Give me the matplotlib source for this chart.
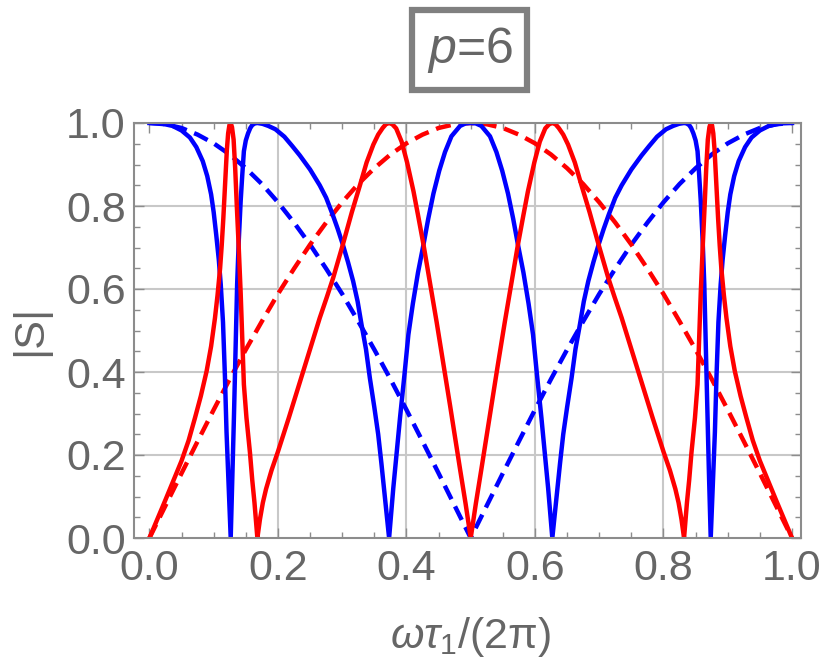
import matplotlib
matplotlib.use('Agg')
import matplotlib.pyplot as plt
from matplotlib.ticker import MultipleLocator

# values, as (x, |S|) pairs
# solid blue curve
blue_pts = [
    (0.000, 1.000), (0.018, 0.999), (0.036, 0.993), (0.050, 0.982), (0.063, 0.965),
    (0.073, 0.942), (0.083, 0.908), (0.090, 0.872), (0.096, 0.828), (0.100, 0.785),
    (0.104, 0.730), (0.108, 0.670), (0.111, 0.611), (0.1145, 0.520), (0.1175, 0.390),
    (0.120, 0.255), (0.1235, 0.115), (0.1265, 0.000), (0.1295, 0.170), (0.1315, 0.290),
    (0.134, 0.450), (0.1365, 0.611), (0.139, 0.715), (0.142, 0.812), (0.1445, 0.875),
    (0.147, 0.932), (0.150, 0.958), (0.1535, 0.975), (0.157, 0.988), (0.160, 0.995),
    (0.164, 0.999), (0.168, 1.000), (0.176, 0.998), (0.185, 0.993), (0.196, 0.985),
    (0.210, 0.967), (0.222, 0.945), (0.234, 0.922), (0.250, 0.888), (0.265, 0.850),
    (0.275, 0.820), (0.285, 0.780), (0.293, 0.745), (0.301, 0.707), (0.309, 0.665),
    (0.317, 0.619), (0.324, 0.570), (0.330, 0.515), (0.337, 0.455), (0.343, 0.386),
    (0.350, 0.315), (0.356, 0.250), (0.361, 0.180), (0.366, 0.105), (0.373, 0.000),
    (0.3795, 0.120), (0.385, 0.210), (0.390, 0.290), (0.397, 0.395), (0.403, 0.490),
    (0.410, 0.565), (0.418, 0.640), (0.4265, 0.707), (0.434, 0.770), (0.442, 0.830),
    (0.451, 0.885), (0.460, 0.930), (0.470, 0.968), (0.4835, 0.993), (0.492, 0.999),
    (0.500, 1.000),
    (0.508, 0.999), (0.5165, 0.993), (0.530, 0.968), (0.540, 0.930), (0.549, 0.885),
    (0.558, 0.830), (0.566, 0.770), (0.5735, 0.707), (0.582, 0.640), (0.590, 0.565),
    (0.597, 0.490), (0.603, 0.395), (0.610, 0.290), (0.615, 0.210), (0.6205, 0.120),
    (0.627, 0.000), (0.634, 0.105), (0.639, 0.180), (0.644, 0.250), (0.650, 0.315),
    (0.657, 0.386), (0.663, 0.455), (0.670, 0.515), (0.676, 0.570), (0.683, 0.619),
    (0.691, 0.665), (0.699, 0.707), (0.707, 0.745), (0.715, 0.780), (0.725, 0.820),
    (0.735, 0.850), (0.750, 0.888), (0.766, 0.922), (0.778, 0.945), (0.790, 0.967),
    (0.804, 0.985), (0.815, 0.993), (0.824, 0.998), (0.832, 1.000), (0.836, 0.999),
    (0.840, 0.995), (0.843, 0.988), (0.8465, 0.975), (0.850, 0.958), (0.853, 0.932),
    (0.8555, 0.875), (0.858, 0.812), (0.861, 0.715), (0.8635, 0.611), (0.866, 0.450),
    (0.8685, 0.290), (0.8705, 0.170), (0.8735, 0.000), (0.8765, 0.115), (0.880, 0.255),
    (0.8825, 0.390), (0.8855, 0.520), (0.889, 0.611), (0.892, 0.670), (0.896, 0.730),
    (0.900, 0.785), (0.904, 0.828), (0.910, 0.872), (0.917, 0.908), (0.927, 0.942),
    (0.937, 0.965), (0.950, 0.982), (0.964, 0.993), (0.982, 0.999), (1.000, 1.000),
]

# solid red curve
red_pts = [
    (0.000, 0.000), (0.025, 0.092), (0.050, 0.186), (0.061, 0.235), (0.071, 0.290),
    (0.080, 0.342), (0.089, 0.402), (0.096, 0.462), (0.102, 0.530), (0.106, 0.585),
    (0.110, 0.650), (0.1125, 0.705), (0.115, 0.770), (0.117, 0.830), (0.119, 0.890),
    (0.1205, 0.935), (0.1225, 0.975), (0.1245, 0.995), (0.1265, 1.000), (0.1285, 0.990),
    (0.131, 0.960), (0.1335, 0.890), (0.136, 0.800), (0.139, 0.700), (0.142, 0.590),
    (0.1445, 0.480), (0.147, 0.370), (0.151, 0.290), (0.1565, 0.205), (0.160, 0.140),
    (0.1635, 0.085), (0.168, 0.000), (0.172, 0.045), (0.1765, 0.085), (0.1815, 0.118),
    (0.190, 0.163), (0.200, 0.208), (0.217, 0.290), (0.234, 0.375), (0.250, 0.455),
    (0.265, 0.530), (0.276, 0.580), (0.286, 0.627), (0.301, 0.707), (0.315, 0.785),
    (0.328, 0.852), (0.338, 0.905), (0.3485, 0.948), (0.356, 0.972), (0.363, 0.988),
    (0.368, 0.997), (0.373, 1.000), (0.378, 0.997), (0.384, 0.987), (0.3925, 0.955),
    (0.401, 0.905), (0.411, 0.835), (0.418, 0.778), (0.4265, 0.707), (0.437, 0.612),
    (0.447, 0.520), (0.458, 0.415), (0.468, 0.318), (0.4835, 0.165), (0.492, 0.083),
    (0.500, 0.000),
    (0.508, 0.083), (0.5165, 0.165), (0.532, 0.318), (0.542, 0.415), (0.553, 0.520),
    (0.563, 0.612), (0.5735, 0.707), (0.582, 0.778), (0.589, 0.835), (0.599, 0.905),
    (0.6075, 0.955), (0.616, 0.987), (0.622, 0.997), (0.627, 1.000), (0.632, 0.997),
    (0.637, 0.988), (0.644, 0.972), (0.6515, 0.948), (0.662, 0.905), (0.672, 0.852),
    (0.685, 0.785), (0.699, 0.707), (0.714, 0.627), (0.724, 0.580), (0.735, 0.530),
    (0.750, 0.455), (0.766, 0.375), (0.783, 0.290), (0.800, 0.208), (0.810, 0.163),
    (0.8185, 0.118), (0.8235, 0.085), (0.828, 0.045), (0.832, 0.000), (0.8365, 0.085),
    (0.840, 0.140), (0.8435, 0.205), (0.849, 0.290), (0.853, 0.370), (0.8555, 0.480),
    (0.858, 0.590), (0.861, 0.700), (0.864, 0.800), (0.8665, 0.890), (0.869, 0.960),
    (0.8715, 0.990), (0.8735, 1.000), (0.8755, 0.995), (0.8775, 0.975), (0.8795, 0.935),
    (0.881, 0.890), (0.883, 0.830), (0.885, 0.770), (0.8875, 0.705), (0.890, 0.650),
    (0.894, 0.585), (0.898, 0.530), (0.904, 0.462), (0.911, 0.402), (0.920, 0.342),
    (0.929, 0.290), (0.939, 0.235), (0.950, 0.186), (0.975, 0.092), (1.000, 0.000),
]

# dashed curves
x_dash = [0.000, 0.025, 0.050, 0.075, 0.100, 0.125, 0.150, 0.175, 0.200, 0.225,
          0.250, 0.275, 0.300, 0.325, 0.350, 0.375, 0.400, 0.425, 0.450, 0.475,
          0.500, 0.525, 0.550, 0.575, 0.600, 0.625, 0.650, 0.675, 0.700, 0.725,
          0.750, 0.775, 0.800, 0.825, 0.850, 0.875, 0.900, 0.925, 0.950, 0.975, 1.000]
y_blue_dash = [1.000, 0.997, 0.988, 0.972, 0.951, 0.924, 0.891, 0.853, 0.809, 0.760,
               0.707, 0.649, 0.588, 0.522, 0.454, 0.383, 0.309, 0.233, 0.156, 0.078,
               0.000, 0.078, 0.156, 0.233, 0.309, 0.383, 0.454, 0.522, 0.588, 0.649,
               0.707, 0.760, 0.809, 0.853, 0.891, 0.924, 0.951, 0.972, 0.988, 0.997, 1.000]
y_red_dash = [0.000, 0.078, 0.156, 0.233, 0.309, 0.383, 0.454, 0.522, 0.588, 0.649,
              0.707, 0.760, 0.809, 0.853, 0.891, 0.924, 0.951, 0.972, 0.988, 0.997,
              1.000, 0.997, 0.988, 0.972, 0.951, 0.924, 0.891, 0.853, 0.809, 0.760,
              0.707, 0.649, 0.588, 0.522, 0.454, 0.383, 0.309, 0.233, 0.156, 0.078, 0.000]

xticks = [0.0, 0.2, 0.4, 0.6, 0.8, 1.0]
yticks = [0.0, 0.2, 0.4, 0.6, 0.8, 1.0]

plt.rcParams['font.family'] = ['Liberation Sans', 'DejaVu Sans']
plt.rcParams['mathtext.fontset'] = 'custom'
plt.rcParams['mathtext.rm'] = 'Liberation Sans'
plt.rcParams['mathtext.it'] = 'Liberation Sans:italic'
plt.rcParams['mathtext.bf'] = 'Liberation Sans:bold'

text_col = '#666666'
frame_col = '#8c8c8c'

x_blue = [p[0] for p in blue_pts]
y_blue = [p[1] for p in blue_pts]
x_red = [p[0] for p in red_pts]
y_red = [p[1] for p in red_pts]

fig = plt.figure(figsize=(8.25, 6.67), dpi=100)
ax = fig.add_axes([134/825, 1 - 538/667, 667/825, 415/667])

lw = 3.2
ax.plot(x_dash, y_blue_dash, color='#0000ff', lw=lw, dashes=(3.4, 1.8))
ax.plot(x_dash, y_red_dash, color='#ff0000', lw=lw, dashes=(3.4, 1.8))
ax.plot(x_blue, y_blue, color='#0000ff', lw=lw, solid_joinstyle='round')
ax.plot(x_red, y_red, color='#ff0000', lw=lw, solid_joinstyle='round')

ax.set_xlim(-0.024, 1.014)
ax.set_ylim(0, 1)

# grid only on inner major lines
for g in [0.2, 0.4, 0.6, 0.8]:
    ax.axvline(g, color='#c8c8c8', lw=1.5, zorder=0)
    ax.axhline(g, color='#c8c8c8', lw=1.5, zorder=0)

ax.set_xticks(xticks)
ax.set_yticks(yticks)
ax.set_xticklabels(['%.1f' % t for t in xticks])
ax.set_yticklabels(['%.1f' % t for t in yticks])
ax.xaxis.set_minor_locator(MultipleLocator(0.05))
ax.yaxis.set_minor_locator(MultipleLocator(0.05))
ax.tick_params(which='both', direction='in', top=True, right=True, color=frame_col, width=1.0)
ax.tick_params(which='major', length=7, labelsize=31, labelcolor=text_col)
ax.tick_params(which='minor', length=4)
ax.tick_params(axis='x', pad=8)
ax.tick_params(axis='y', pad=6)
for s in ax.spines.values():
    s.set_color(frame_col)
    s.set_linewidth(1.5)

ax.set_xlabel(r'$\omega\tau_1/(2\mathrm{\pi})$', fontsize=31, color=text_col)
ax.xaxis.set_label_coords(0.504, -0.185)
ax.set_ylabel('|S|', fontsize=31, color=text_col)
ax.yaxis.set_label_coords(-0.125, 0.5)

fig.text(469.5/825, 1 - 50/667, r'$p$=6', fontsize=36, color=text_col,
         ha='center', va='center',
         bbox=dict(boxstyle='square,pad=0.3', fc='white', ec='#808080', lw=4.5))

fig.savefig('out.png', dpi=100)
